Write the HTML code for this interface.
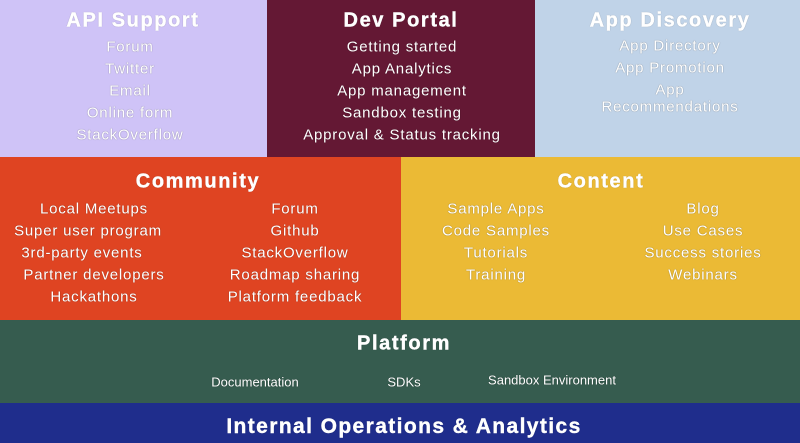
<!DOCTYPE html>
<html><head><meta charset="utf-8"><style>
body{margin:0;width:800px;height:443px;position:relative;overflow:hidden;font-family:"Liberation Sans",sans-serif;color:#fff}
.b{position:absolute}
.t{position:absolute;transform:translate(-50%,-50%);white-space:nowrap;text-align:center;text-shadow:0 0 1px rgba(0,0,0,.5)}
.h{font-weight:bold;font-size:20px;letter-spacing:1.6px;-webkit-text-stroke:0.4px #fff}
.i{font-size:15px;letter-spacing:.8px}
.s{font-size:13px;letter-spacing:0}
</style></head><body>
<div class="b" style="left:0;top:0;width:267px;height:157px;background:#cfc3f7"></div>
<div class="b" style="left:267px;top:0;width:268px;height:157px;background:#641834"></div>
<div class="b" style="left:535px;top:0;width:265px;height:157px;background:#c0d3e8"></div>
<div class="b" style="left:0;top:157px;width:401px;height:163px;background:#df4422"></div>
<div class="b" style="left:401px;top:157px;width:399px;height:163px;background:#ebba35"></div>
<div class="b" style="left:0;top:320px;width:800px;height:83px;background:#365c4f"></div>
<div class="b" style="left:0;top:403px;width:800px;height:40px;background:#1f2d8c"></div>

<div class="t h" style="left:133px;top:21px">API Support</div>
<div class="t i" style="left:130px;top:47px">Forum</div>
<div class="t i" style="left:130px;top:69px">Twitter</div>
<div class="t i" style="left:130px;top:91px">Email</div>
<div class="t i" style="left:130px;top:113px">Online form</div>
<div class="t i" style="left:130px;top:135px">StackOverflow</div>

<div class="t h" style="left:401px;top:21px">Dev Portal</div>
<div class="t i" style="left:402px;top:47px">Getting started</div>
<div class="t i" style="left:402px;top:69px">App Analytics</div>
<div class="t i" style="left:402px;top:91px">App management</div>
<div class="t i" style="left:402px;top:113px">Sandbox testing</div>
<div class="t i" style="left:402px;top:135px">Approval &amp; Status tracking</div>

<div class="t h" style="left:670px;top:21px">App Discovery</div>
<div class="t i" style="left:670px;top:46px">App Directory</div>
<div class="t i" style="left:670px;top:68px">App Promotion</div>
<div class="t i" style="left:670px;top:90px">App</div>
<div class="t i" style="left:670px;top:107px">Recommendations</div>

<div class="t h" style="left:198px;top:182px">Community</div>
<div class="t i" style="left:94px;top:209px">Local Meetups</div>
<div class="t i" style="left:88px;top:231px">Super user program</div>
<div class="t i" style="left:82px;top:253px">3rd-party events</div>
<div class="t i" style="left:94px;top:275px">Partner developers</div>
<div class="t i" style="left:94px;top:297px">Hackathons</div>
<div class="t i" style="left:295px;top:209px">Forum</div>
<div class="t i" style="left:295px;top:231px">Github</div>
<div class="t i" style="left:295px;top:253px">StackOverflow</div>
<div class="t i" style="left:295px;top:275px">Roadmap sharing</div>
<div class="t i" style="left:295px;top:297px">Platform feedback</div>

<div class="t h" style="left:601px;top:182px">Content</div>
<div class="t i" style="left:496px;top:209px">Sample Apps</div>
<div class="t i" style="left:496px;top:231px">Code Samples</div>
<div class="t i" style="left:496px;top:253px">Tutorials</div>
<div class="t i" style="left:496px;top:275px">Training</div>
<div class="t i" style="left:703px;top:209px">Blog</div>
<div class="t i" style="left:703px;top:231px">Use Cases</div>
<div class="t i" style="left:703px;top:253px">Success stories</div>
<div class="t i" style="left:703px;top:275px">Webinars</div>

<div class="t h" style="left:404px;top:344px">Platform</div>
<div class="t s" style="left:255px;top:382px">Documentation</div>
<div class="t s" style="left:404px;top:382px">SDKs</div>
<div class="t s" style="left:552px;top:380px">Sandbox Environment</div>

<div class="t h" style="left:404px;top:427px;font-size:21px;letter-spacing:1.4px">Internal Operations &amp; Analytics</div>
</body></html>
